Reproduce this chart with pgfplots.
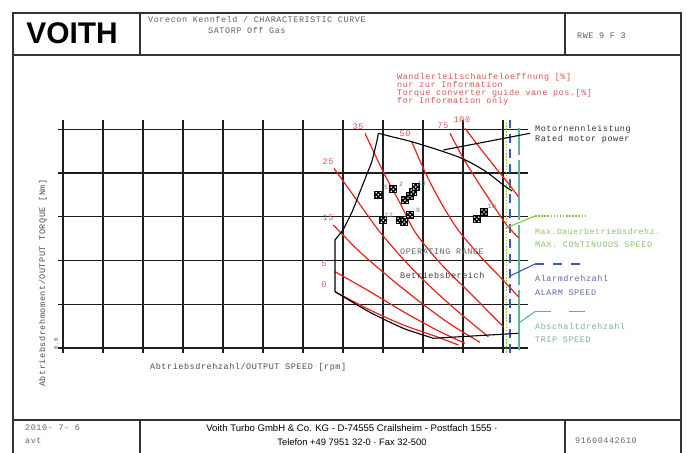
\documentclass[border=0pt]{standalone}
\usepackage{pgfplots}
\pgfplotsset{compat=1.18}
\usepackage{fontspec}
\setmainfont{Liberation Sans}
\setmonofont{Liberation Mono}
\newfontfamily\cadfont[LetterSpace=6.7]{Liberation Mono}

\definecolor{cadred}{RGB}{232,32,32}
\definecolor{cadredtxt}{RGB}{215,85,85}
\definecolor{cadgreen}{RGB}{130,200,70}
\definecolor{cadgreentxt}{RGB}{140,195,110}
\definecolor{cadblue}{RGB}{60,90,180}
\definecolor{cadbluetxt}{RGB}{90,105,165}
\definecolor{cadteal}{RGB}{100,175,165}
\definecolor{cadtealtxt}{RGB}{120,175,170}
\definecolor{cadgray}{RGB}{95,95,95}
\definecolor{gridc}{RGB}{30,30,30}

\newcommand\cad{\cadfont\fontsize{8.5}{8.5}\selectfont}
\newcommand\cadsmall{\cadfont\fontsize{6.5}{6.5}\selectfont}

% black square with white dots, as on the drawing
\pgfdeclareplotmark{dice}{%
  \pgfpathrectangle{\pgfqpoint{-\pgfplotmarksize}{-\pgfplotmarksize}}{\pgfqpoint{2\pgfplotmarksize}{2\pgfplotmarksize}}%
  \pgfsetfillcolor{black}\pgfusepathqfill
  \pgfsetfillcolor{white}%
  \pgfpathcircle{\pgfqpoint{0.5\pgfplotmarksize}{0.5\pgfplotmarksize}}{0.22\pgfplotmarksize}%
  \pgfpathcircle{\pgfqpoint{-0.5\pgfplotmarksize}{0.5\pgfplotmarksize}}{0.22\pgfplotmarksize}%
  \pgfpathcircle{\pgfqpoint{0.5\pgfplotmarksize}{-0.5\pgfplotmarksize}}{0.22\pgfplotmarksize}%
  \pgfpathcircle{\pgfqpoint{-0.5\pgfplotmarksize}{-0.5\pgfplotmarksize}}{0.22\pgfplotmarksize}%
  \pgfpathcircle{\pgfqpoint{0pt}{0pt}}{0.22\pgfplotmarksize}%
  \pgfusepathqfill
}

\begin{document}
\begin{tikzpicture}[x=1bp,y=1bp]
\useasboundingbox (0,0) rectangle (686,-453);
\fill[white] (0,0) rectangle (686,-453);

% drawing frame
\begin{scope}[line width=1.2bp, black!80]
\draw (13,-453) -- (13,-13) -- (681,-13) -- (681,-453);
\draw (13,-55) -- (681,-55);
\draw (140,-13) -- (140,-55);
\draw (565,-13) -- (565,-55);
\draw (13,-420) -- (681,-420);
\draw (140,-420) -- (140,-453);
\draw (565,-420) -- (565,-453);
\end{scope}

% header
\node[inner sep=0, font=\fontsize{30}{30}\selectfont\bfseries] at (72,-33) {VOITH};
\node[anchor=base west, inner sep=0, font=\cad, text=cadgray] at (148,-23) {Vorecon Kennfeld / CHARACTERISTIC CURVE};
\node[anchor=base west, inner sep=0, font=\cad, text=cadgray] at (208,-34) {SATORP Off Gas};
\node[anchor=base west, inner sep=0, font=\cad, text=cadgray] at (577,-39) {RWE  9 F  3};

\begin{axis}[
    at={(58bp,-353bp)}, anchor=south west,
    scale only axis, width=470bp, height=232.5bp,
    xmin=-0.125, xmax=11.625, ymin=-0.1143, ymax=5.2,
    xtick={0,...,11}, ytick={0,...,5},
    xticklabels={}, yticklabels={},
    major tick length=0pt,
    grid=major,
    major grid style={line width=1.4bp, gridc},
    axis line style={draw=none},
    clip=false,
    every axis plot/.append style={line width=1.2bp},
    ]
% speed limits
\addplot[cadgreen, line width=1.3bp, dash pattern=on 1.5bp off 1.6bp] coordinates {(11.08,-0.114) (11.08,5.2)};
\addplot[cadblue, dash pattern=on 9bp off 6bp] coordinates {(11.175,-0.114) (11.175,5.2)};
\addplot[cadteal, dash pattern=on 60bp off 5bp] coordinates {(11.4,-0.05) (11.4,5.03)};

% guide vane position curves [%]
\addplot[cadred, smooth, tension=0.5] coordinates {(6.800,1.287) (7.675,0.869) (8.508,0.526) (9.343,0.258) (9.883,0.069)};
\addplot[cadred, smooth, tension=0.5] coordinates {(6.800,1.744) (7.675,1.287) (8.508,0.830) (9.342,0.411) (10.05,0.107)};
\addplot[cadred, smooth, tension=0.5] coordinates {(6.758,2.811) (7.425,2.194) (8.175,1.600) (8.925,1.051) (9.675,0.549) (10.425,0.130)};
\addplot[cadred, smooth, tension=0.5] coordinates {(6.775,4.107) (7.325,3.406) (7.883,2.697) (8.425,2.114) (9.008,1.554) (9.800,0.891) (10.633,0.258)};
\addplot[cadred, smooth, tension=0.5] coordinates {(7.550,4.907) (8.008,4.023) (8.425,3.314) (8.800,2.651) (9.425,1.943) (10.175,1.257) (11.008,0.487)};
\addplot[cadred, smooth, tension=0.5] coordinates {(8.718,4.715) (9.050,4.023) (9.425,3.360) (9.843,2.743) (10.225,2.309) (10.593,1.936) (11.000,1.554) (11.383,1.173)};
\addplot[cadred, smooth, tension=0.5] coordinates {(9.675,4.907) (10.008,4.336) (10.375,3.794) (10.750,3.269) (11.093,2.811) (11.393,2.514)};
\addplot[cadred, smooth, tension=0.5] coordinates {(10.050,5.022) (10.425,4.571) (10.800,4.137) (11.125,3.771) (11.383,3.458)};

% operating range envelope
\addplot[black, line width=1.1bp, smooth, tension=0.35] coordinates {
 (9.258,0.222) (8.508,0.450) (7.675,0.816) (6.800,1.287)};
\addplot[black, line width=1.1bp] coordinates {(6.800,1.287) (6.800,2.469) (7.000,2.697)};
\addplot[black, line width=1.1bp, smooth, tension=0.5] coordinates {
 (7.000,2.697) (7.225,3.109) (7.425,3.573) (7.588,3.954) (7.718,4.258) (7.843,4.715) (7.883,4.907)};
\addplot[black, line width=1.1bp, smooth, tension=0.5] coordinates {
 (7.883,4.907) (8.300,4.811) (8.718,4.715) (9.425,4.514) (10.008,4.320) (10.550,4.046) (11.008,3.726) (11.225,3.589)};
\addplot[black, line width=1.1bp] coordinates {(9.258,0.222) (11.383,0.336)};

% operating points
\addplot[only marks, mark=dice, mark size=4.1pt] coordinates {
 (7.883,3.504) (8.258,3.627) (8.550,3.376) (8.675,3.474) (8.758,3.566) (8.818,3.680)
 (8.008,2.919) (8.425,2.919) (8.533,2.880) (8.675,3.047) (10.343,2.942) (10.525,3.109)};
\end{axis}

% curve labels
\begin{scope}[every node/.style={inner sep=0, font=\cad, text=cadredtxt}]
\node at (358,-127) {35};
\node at (405,-134) {50};
\node at (443,-126) {75};
\node at (462,-120) {100};
\node at (328,-162) {25};
\node at (328,-218) {15};
\node at (324,-264) {5};
\node at (324,-285) {0};
\end{scope}
\begin{scope}[every node/.style={inner sep=0, anchor=base west, font=\cad, text=cadredtxt}]
\node at (397,-79.5) {Wandlerleitschaufeloeffnung [\%]};
\node at (397,-87.5) {nur zur Information};
\node at (397,-95.5) {Torque converter guide vane pos.[\%]};
\node at (397,-103.5) {for Information only};
\end{scope}

% point numbers
\begin{scope}[every node/.style={inner sep=0, font=\cadsmall, text=black!55}]
\node at (386,-187) {5};
\node at (401,-184) {2};
\node at (422,-183) {13};
\node at (389,-215) {12};
\node at (418,-210) {9};
\node at (492,-206) {10};
\end{scope}

\node[anchor=west, inner sep=0, font=\cad, text=black!60] at (400,-251.7) {OPERATING RANGE};
\node[anchor=west, inner sep=0, font=\cad, text=black!75] at (400,-275.7) {Betriebsbereich};

% limit lines legend
\draw[line width=1.1bp, black] (443.3,-150) -- (530,-133.3);
\node[anchor=west, inner sep=0, font=\cad, text=black!80] at (535,-129) {Motornennleistung};
\node[anchor=west, inner sep=0, font=\cad, text=black!80] at (535,-139) {Rated motor power};

\draw[line width=1.1bp, cadgreen] (505,-228.3) -- (535,-216);
\draw[line width=1.3bp, cadgreen, dash pattern=on 1.5bp off 1.6bp] (535,-216) -- (587,-216);
\node[anchor=west, inner sep=0, font=\cadfont\fontsize{8.2}{8.2}\selectfont, text=cadgreentxt] at (535,-231.7) {Max.Dauerbetriebsdrehz.};
\node[anchor=west, inner sep=0, font=\cad, text=cadgreentxt] at (535,-245) {MAX. CONTINUOUS SPEED};

\draw[line width=1.1bp, cadblue] (510,-276) -- (535,-264);
\draw[line width=1.2bp, cadblue, dash pattern=on 9bp off 9bp] (535,-264) -- (589,-264);
\node[anchor=west, inner sep=0, font=\cad, text=cadbluetxt] at (535,-278.3) {Alarmdrehzahl};
\node[anchor=west, inner sep=0, font=\cad, text=cadbluetxt] at (535,-292.7) {ALARM SPEED};

\draw[line width=1.1bp, cadteal] (518.3,-323.3) -- (535,-311.7);
\draw[line width=1.2bp, cadteal, dash pattern=on 16bp off 18bp] (535,-311.7) -- (585,-311.7);
\node[anchor=west, inner sep=0, font=\cad, text=cadtealtxt] at (535,-326) {Abschaltdrehzahl};
\node[anchor=west, inner sep=0, font=\cad, text=cadtealtxt] at (535,-340) {TRIP SPEED};

% axis titles
\node[anchor=west, inner sep=0, font=\cad, text=black!70] at (150,-367) {Abtriebsdrehzahl/OUTPUT SPEED [rpm]};
\node[rotate=90, inner sep=0, font=\cad, text=black!70] at (43,-283) {Abtriebsdrehmoment/OUTPUT TORQUE [Nm]};
\node[rotate=90, inner sep=0, font=\cadfont\fontsize{5.5}{5.5}\selectfont, text=black!75] at (56,-344) {0.0};

% footer
\node[anchor=west, inner sep=0, font=\cad, text=black!60] at (25,-428) {2010- 7- 6};
\node[anchor=west, inner sep=0, font=\cad, text=black!60] at (25,-441) {avt};
\node[inner sep=0, font=\fontsize{9.6}{9.6}\selectfont, text=black] at (352,-428.5) {Voith Turbo GmbH \& Co. KG - D-74555 Crailsheim - Postfach 1555 ·};
\node[inner sep=0, font=\fontsize{9.4}{9.4}\selectfont, text=black] at (352,-442) {Telefon +49 7951 32-0 · Fax 32-500};
\node[anchor=west, inner sep=0, font=\cad, text=black!60] at (575,-441) {91600442610};
\end{tikzpicture}
\end{document}
